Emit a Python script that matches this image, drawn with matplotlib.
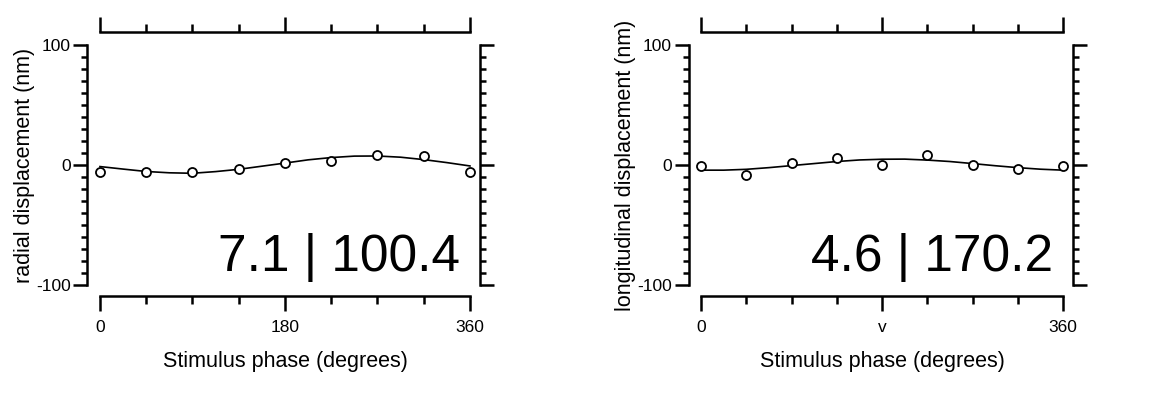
"""위상-변위 패널 2개 (radial / longitudinal) 재현 — Igor 스타일 분리 축."""
import numpy as np
import matplotlib
matplotlib.use("Agg")
import matplotlib.pyplot as plt
from matplotlib.ticker import MultipleLocator, FixedLocator

plt.rcParams["font.family"] = ["Liberation Sans", "DejaVu Sans"]
plt.rcParams["axes.unicode_minus"] = False

# --- data ---
phase = [0, 45, 90, 135, 180, 225, 270, 315, 360]
radial = [-6.1, -5.6, -6.1, -3.6, 1.4, 3.3, 8.6, 7.8, -5.6]
longit = [-0.8, -8.6, 1.9, 5.6, 0.0, 8.1, 0.0, -3.1, -0.8]

fit_phase = [0, 22.5, 45, 67.5, 90, 112.5, 135, 157.5, 180,
             202.5, 225, 247.5, 270, 292.5, 315, 337.5, 360]
radial_fit = [-1.3, -3.4, -5.4, -6.5, -6.9, -5.5, -3.6, -1.0, 1.6,
              4.3, 6.2, 7.4, 7.5, 6.5, 4.5, 2.0, -0.8]
longit_fit = [-4.3, -4.3, -3.6, -2.2, -0.5, 1.2, 2.9, 4.2, 4.8,
              4.9, 4.1, 2.9, 1.2, -0.6, -2.2, -3.5, -4.3]

radial_note = "7.1 | 100.4"
longit_note = "4.6 | 170.2"
xlabel = "Stimulus phase (degrees)"
left_xticklabels = ["0", "180", "360"]
right_xticklabels = ["0", "v", "360"]


def draw_panel(ax, y, yfit, ylabel, note, xticklabels):
    ax.plot(fit_phase, yfit, color="black", lw=1.2, zorder=2, clip_on=False)
    ax.plot(phase, y, ls="none", marker="o", ms=6.5, mfc="white",
            mec="black", mew=1.3, zorder=3, clip_on=False)
    ax.set_xlim(0, 360)
    ax.set_ylim(-100, 100)

    # 축을 플롯 영역에서 떼어냄 (outward spines)
    for side, off in [("left", 9), ("right", 7), ("bottom", 8), ("top", 9.5)]:
        ax.spines[side].set_position(("outward", off))
        ax.spines[side].set_linewidth(1.8)

    ax.xaxis.set_major_locator(FixedLocator([0, 180, 360]))
    ax.xaxis.set_minor_locator(FixedLocator([45, 90, 135, 225, 270, 315]))
    ax.set_xticklabels(xticklabels)
    ax.yaxis.set_major_locator(MultipleLocator(100))
    ax.yaxis.set_minor_locator(MultipleLocator(10))

    ax.tick_params(which="both", direction="out", top=True, right=True,
                   labeltop=False, labelright=False, width=1.8, labelsize=12.5)
    ax.tick_params(axis="y", which="major", length=10, pad=2)
    ax.tick_params(axis="y", which="minor", length=4.5)
    ax.tick_params(axis="x", which="major", length=11, pad=6)
    ax.tick_params(axis="x", which="minor", length=5.5)

    ax.set_ylabel(ylabel, fontsize=15.5, labelpad=1)
    ax.set_xlabel(xlabel, fontsize=15.5, labelpad=12)
    ax.text(350, -88, note, ha="right", va="baseline", fontsize=37)


fig = plt.figure(figsize=(11.53, 4.0), dpi=100)
ax1 = fig.add_axes([0.0867, 0.2875, 0.3209, 0.60])
ax2 = fig.add_axes([0.608, 0.2875, 0.314, 0.60])

draw_panel(ax1, radial, radial_fit, "radial displacement (nm)", radial_note, left_xticklabels)
draw_panel(ax2, longit, longit_fit, "longitudinal displacement (nm)", longit_note, right_xticklabels)

fig.savefig("out.png", dpi=100, facecolor="white")
